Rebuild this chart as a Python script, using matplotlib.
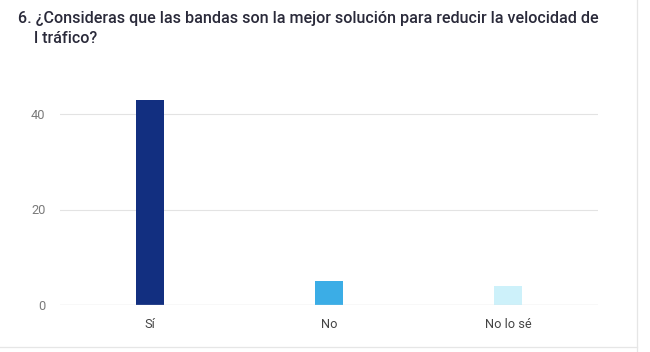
import matplotlib.pyplot as plt
from matplotlib.lines import Line2D

categories = ["Sí", "No", "No lo sé"]
counts = [43, 5, 4]
colors = ["#122f80", "#3bade6", "#cdf1fa"]
yticks = [0, 20, 40]
title = "6. ¿Consideras que las bandas son la mejor solución para reducir la velocidad de\n    l tráfico?"

plt.rcParams["font.family"] = ["Roboto", "DejaVu Sans"]

fig = plt.figure(figsize=(6.5, 3.52), dpi=100)
ax = fig.add_axes([60 / 650, 1 - 305 / 352, 538 / 650, (305 - 60) / 352])

x = range(len(categories))
ax.bar(x, counts, width=0.157, color=colors, zorder=3)

ax.set_xlim(-0.5, len(categories) - 0.5)
ax.set_ylim(0, 40 * (305 - 60) / (305 - 114))
ax.set_yticks(yticks)
ax.set_xticks(list(x))
ax.set_xticklabels(categories)
ax.tick_params(axis="both", length=0, labelsize=9.2)
ax.tick_params(axis="y", pad=10.5, labelcolor="#7a7a7a")
ax.tick_params(axis="x", pad=9, labelcolor="#444444")
ax.grid(axis="y", color="#e3e3e3", linewidth=0.8, zorder=0)
for s in ax.spines.values():
    s.set_visible(False)
ax.axhline(0, color="#dddddd", linewidth=0.9, zorder=4)

fig.text(18 / 650, 1 - 11 / 352, title, fontsize=11.6, fontweight="medium",
         color="#2a2a3a", va="top", ha="left", linespacing=1.42)

# page frame lines
fig.add_artist(Line2D([637 / 650, 637 / 650], [0, 1], color="#e6e6e6", linewidth=0.9))
fig.add_artist(Line2D([0, 637 / 650], [1 - 347 / 352] * 2, color="#e6e6e6", linewidth=0.9))

fig.savefig("out.png", dpi=100)
